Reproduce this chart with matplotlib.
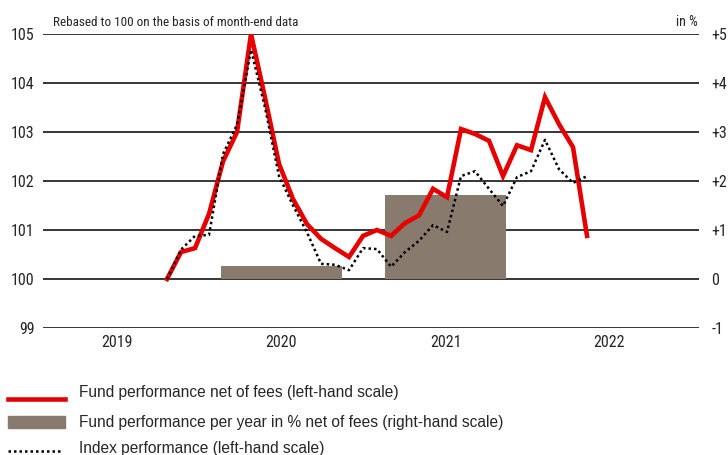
import numpy as np
import matplotlib
matplotlib.use("Agg")
import matplotlib.pyplot as plt
from matplotlib.lines import Line2D
from matplotlib.patches import Rectangle
from matplotlib import font_manager

# ---- data ----
fund = [100.0, 100.55, 100.63, 101.33, 102.4, 103.0, 105.0, 103.7, 102.35, 101.63,
        101.12, 100.82, 100.63, 100.45, 100.88, 101.0, 100.88, 101.14, 101.3, 101.84,
        101.67, 103.06, 102.96, 102.82, 102.10, 102.73, 102.63, 103.71, 103.16, 102.69,
        100.88]
index = [100.0, 100.6, 100.88, 100.9, 102.55, 103.15, 104.68, 103.5, 102.1, 101.5,
         100.95, 100.31, 100.29, 100.18, 100.63, 100.61, 100.25, 100.55, 100.78, 101.1,
         100.96, 102.1, 102.2, 101.84, 101.49, 102.08, 102.2, 102.84, 102.24, 101.96,
         102.1]
bar_years = ['2020', '2021']
bar_values = [0.27, 1.72]
year_labels = ['2019', '2020', '2021', '2022']
left_ticks = [99, 100, 101, 102, 103, 104, 105]
right_ticks = [-1, 0, 1, 2, 3, 4, 5]
right_labels = ['-1', '0', '+1', '+2', '+3', '+4', '+5']

# ---- font choice: a narrow face if one is installed ----
entries = font_manager.fontManager.ttflist
names = {f.name for f in entries}
narrow = None
for cand in ['Liberation Sans Narrow', 'Roboto Condensed', 'Open Sans Condensed',
             'Noto Sans Condensed', 'DejaVu Sans Condensed']:
    if cand in names:
        narrow = dict(family=[cand, 'DejaVu Sans'])
        break
if narrow is None:
    cond = [f for f in entries if f.name == 'DejaVu Sans' and
            str(f.stretch) in ('condensed', 'semi-condensed', '87.5', '75')]
    if cond:
        narrow = dict(family=['DejaVu Sans'], stretch='condensed')
    else:
        narrow = dict(family=['Liberation Sans', 'DejaVu Sans'])
plt.rcParams['font.family'] = narrow['family']
if 'stretch' in narrow:
    plt.rcParams['font.stretch'] = narrow['stretch']

# ---- layout helpers (positions, in month steps) ----
months = np.arange(len(fund))
year_pos = [-3.6, 8.15, 19.9, 31.6]
bar_pos = [year_pos[year_labels.index(y)] for y in bar_years]
bar_width = 8.64

RED = '#E60000'
BAR = '#887A6C'
TXT = '#262626'

fig = plt.figure(figsize=(7.28, 4.55), dpi=100)
ax2 = fig.add_axes([43/728, 1-328/455, (699-43)/728, (328-34)/455])
ax = ax2.twinx()
ax.set_zorder(ax2.get_zorder() + 1)
ax.patch.set_visible(False)

# right axis: grid + bars
ax2.set_ylim(-1, 5)
ax2.set_yticks(right_ticks)
ax2.grid(axis='y', color='black', linewidth=1.1)
ax2.set_axisbelow(True)
ax2.bar(bar_pos, bar_values, width=bar_width, color=BAR, zorder=2)
ax2.yaxis.tick_right()
ax2.set_yticklabels(right_labels)
ax2.tick_params(axis='y', length=0, pad=9, labelsize=11.5, labelcolor=TXT)

# left axis: lines
ax.set_ylim(99, 105)
ax.plot(months, fund, color=RED, linewidth=3.3, solid_joinstyle='miter', zorder=3)
ax.plot(months, index, color='black', linewidth=1.8, linestyle=(0, (1, 1.2)), zorder=4)
ax.yaxis.tick_left()
ax.set_yticks(left_ticks)
ax.set_yticklabels([str(v) for v in left_ticks])
ax.tick_params(axis='y', length=0, pad=6, labelsize=11.5, labelcolor=TXT)

for a in (ax, ax2):
    a.set_xlim(-8.86, 38.0)
    for s in a.spines.values():
        s.set_visible(False)
ax2.set_xticks(year_pos)
ax2.set_xticklabels(year_labels)
ax2.tick_params(axis='x', length=0, pad=5, labelsize=11.5, labelcolor=TXT)
ax.tick_params(axis='x', length=0, labelbottom=False)

fig.text(53/728, 1-22/455, 'Rebased to 100 on the basis of month-end data',
         fontsize=9.5, color=TXT, va='center', ha='left')
fig.text(698/728, 1-22/455, 'in %', fontsize=10, color=TXT, va='center', ha='right')

# legend
leg_font = ['Liberation Sans', 'DejaVu Sans']
rows = [393, 422, 448]
texts = ['Fund performance net of fees (left-hand scale)',
         'Fund performance per year in % net of fees (right-hand scale)',
         'Index performance (left-hand scale)']
fig.add_artist(Line2D([8/728, 65/728], [1-399/455, 1-399/455], color=RED, linewidth=3.3,
                      transform=fig.transFigure))
fig.add_artist(Rectangle((8/728, 1-(422+6)/455), 57/728, 12/455, color=BAR,
                         transform=fig.transFigure))
fig.add_artist(Line2D([8/728, 62/728], [1-451/455, 1-451/455], color='black', linewidth=1.8,
                      linestyle=(0, (1, 1.2)), transform=fig.transFigure))
for y, t in zip(rows, texts):
    fig.text(79/728, 1-y/455, t, fontsize=11.2, color=TXT, va='center', ha='left',
             family=leg_font, stretch='normal')

fig.savefig('out.png', dpi=100)
